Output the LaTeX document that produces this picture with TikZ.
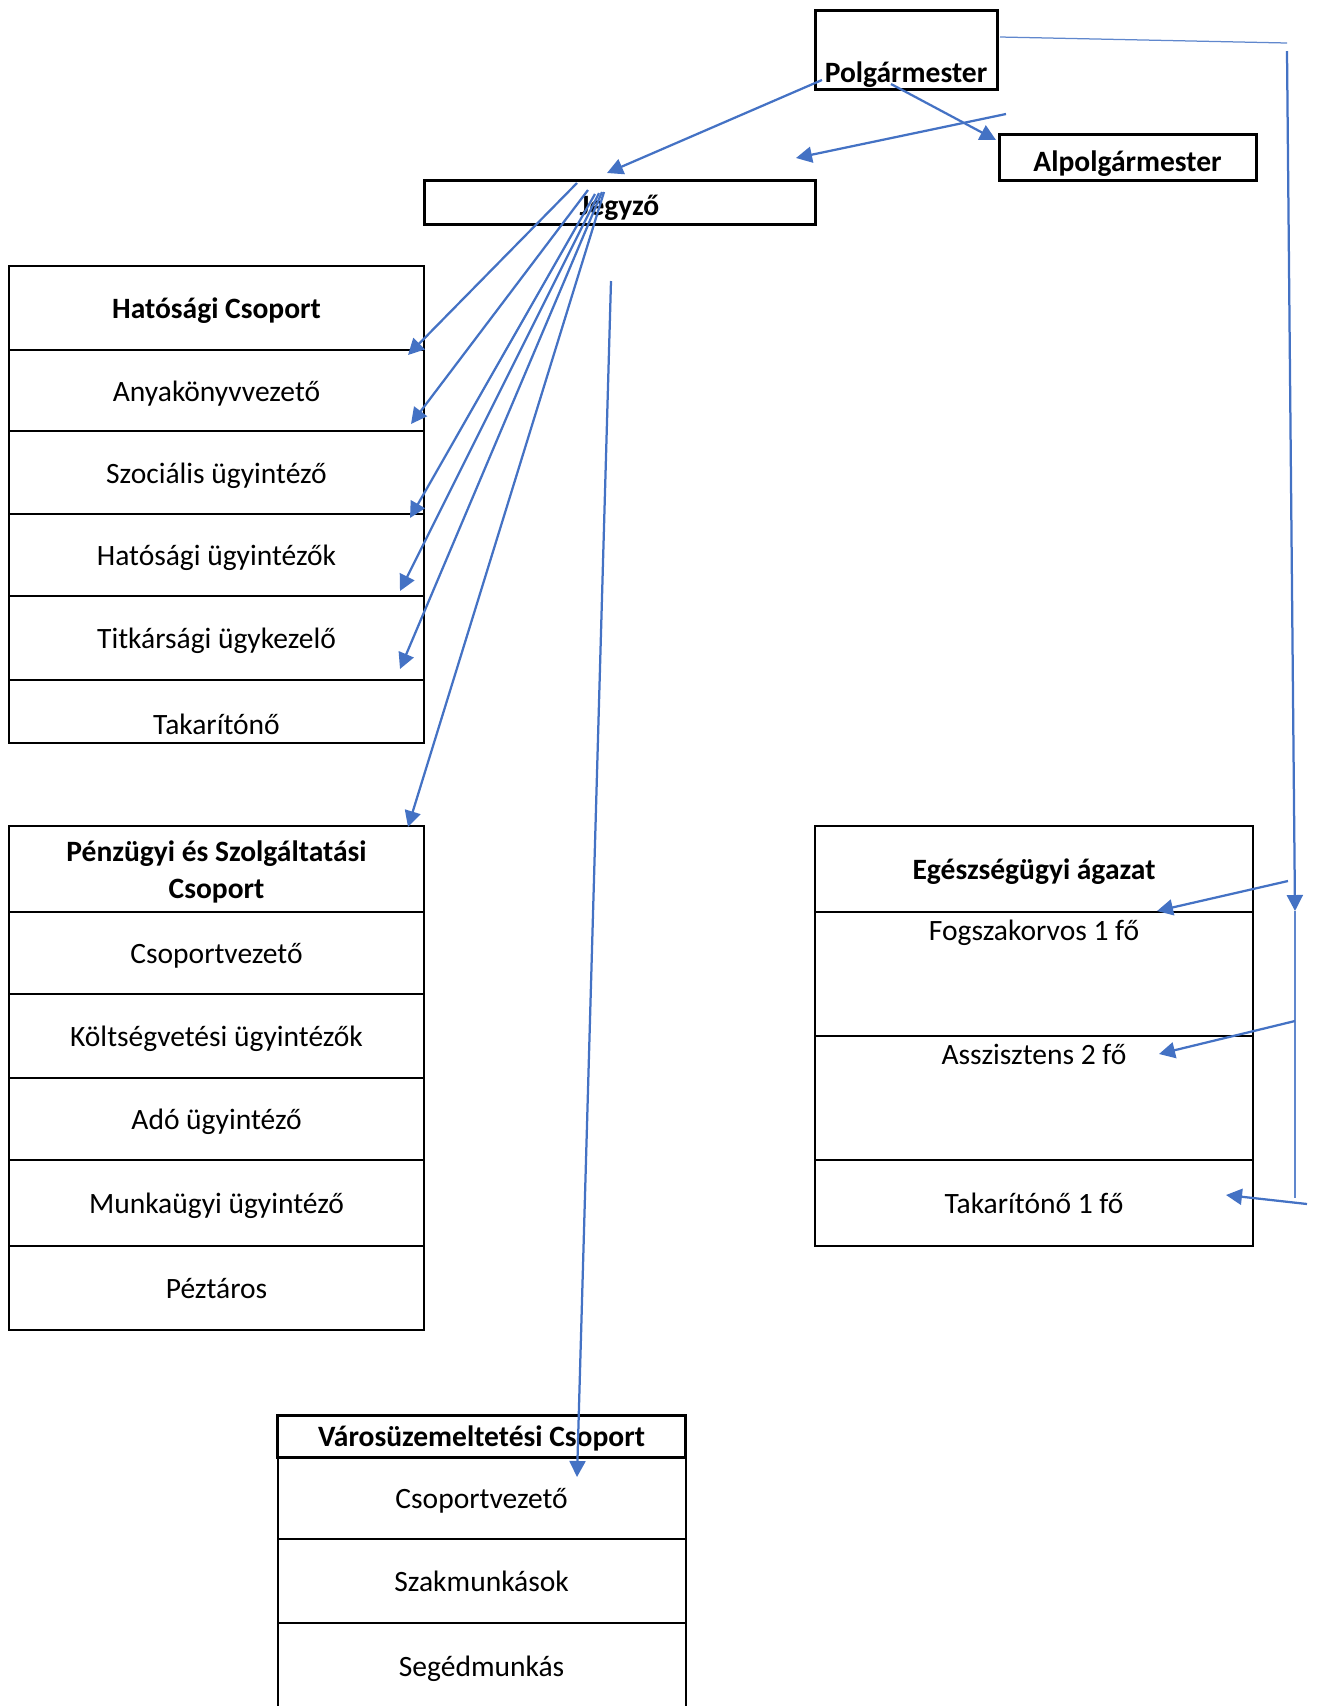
\documentclass[tikz,border=0pt]{standalone}
\usepackage{fontspec}
\setmainfont{Carlito}
\usetikzlibrary{positioning,calc,arrows.meta}
\definecolor{kek}{HTML}{4472C4}
\newcommand{\betumeret}{\fontsize{16.8}{21}\selectfont}
\tikzset{cella/.style={draw, line width=0.4mm, minimum width=83mm, inner sep=0pt, outer sep=0pt, align=center, text height=4.9mm, text depth=0.6mm}}
\tikzset{fej/.style={cella, font=\betumeret\bfseries}}
\tikzset{vastag/.style={draw, line width=0.6mm, inner sep=0pt, outer sep=0pt, font=\betumeret\bfseries, text height=4.9mm, text depth=0.6mm}}
\tikzset{nyil/.style={draw=kek, line width=0.45mm, -{Triangle[length=3.2mm,width=3.2mm]}}}
\tikzset{vonal/.style={draw=kek!85, line width=0.25mm}}

\begin{document}
\begin{tikzpicture}[x=0.2mm, y=-0.2mm, font=\betumeret]
		\useasboundingbox (0,0) rectangle (1317,1706);
		% vezetes
		\node[vastag, minimum width=36.4mm, text height=14.45mm, text depth=1.35mm] (polg) at (906,49.5) {Polgármester};
		\node[vastag, minimum width=51.4mm, minimum height=9.2mm, text height=5.8mm, text depth=0.2mm] (alpolg) at (1127.5,157) {Alpolgármester};
		\node[vastag, minimum width=78.2mm, minimum height=8.8mm, text height=5.6mm, text depth=0.3mm] (jegyzo) at (619.5,202) {Jegyző};
%
		\node[fej, minimum height=16.8mm] (hat0) at (216.5,307.5) {Hatósági Csoport};
		\node[cella, minimum height=16.3mm, below=0pt of hat0] (hat1) {Anyakönyvvezető};
		\node[cella, minimum height=16.5mm, below=0pt of hat1] (hat2) {Szociális ügyintéző};
		\node[cella, minimum height=16.5mm, below=0pt of hat2] (hat3) {Hatósági ügyintézők};
		\node[cella, minimum height=16.8mm, below=0pt of hat3] (hat4) {Titkársági ügykezelő};
		\node[cella, text height=10.8mm, text depth=1.8mm, below=0pt of hat4] (hat5) {Takarítónő};
%
		\node[fej, minimum height=17.2mm, text height=, text depth=] (penz0) at (216.5,869) {\rule{0pt}{5.5mm}Pénzügyi és Szolgáltatási\\Csoport};
		\node[cella, minimum height=16.3mm, below=0pt of penz0] (penz1) {Csoportvezető};
		\node[cella, minimum height=16.8mm, below=0pt of penz1] (penz2) {Költségvetési ügyintézők};
		\node[cella, minimum height=16.5mm, below=0pt of penz2] (penz3) {Adó ügyintéző};
		\node[cella, minimum height=17.2mm, below=0pt of penz3] (penz4) {Munkaügyi ügyintéző};
		\node[cella, minimum height=16.8mm, below=0pt of penz4] (penz5) {Péztáros};
%
		\node[fej, minimum width=87.6mm, minimum height=17.2mm] (eg0) at (1034,869) {Egészségügyi ágazat};
		\node[cella, minimum width=87.6mm, text height=5.6mm, text depth=19.2mm, below=0pt of eg0] (eg1) {Fogszakorvos 1 fő};
		\node[cella, minimum width=87.6mm, text height=5.6mm, text depth=19.2mm, below=0pt of eg1] (eg2) {Asszisztens 2 fő};
		\node[cella, minimum width=87.6mm, minimum height=17.2mm, below=0pt of eg2] (eg3) {Takarítónő 1 fő};
%
		\node[vastag, minimum width=81.6mm, minimum height=8.4mm] (varos0) at (481.6,1436) {Városüzemeltetési Csoport};
		\node[cella, minimum width=81.6mm, minimum height=16.3mm, below=0pt of varos0] (varos1) {Csoportvezető};
		\node[cella, minimum width=81.6mm, minimum height=16.8mm, below=0pt of varos1] (varos2) {Szakmunkások};
		\node[cella, minimum width=81.6mm, minimum height=17.2mm, below=0pt of varos2] (varos3) {Segédmunkás};
		% nyilak vegpontjai
		\coordinate (p1) at (822,80);   \coordinate (p2) at (891,84);
		\coordinate (p3) at (1006,114); \coordinate (p3v) at (796,158);
		\coordinate (pj) at (607,173);  \coordinate (pa) at (996,140);
		\coordinate (k1) at (1000,37);  \coordinate (k2) at (1287,43);
		\coordinate (k3) at (1287,51);  \coordinate (k4) at (1295,911);
		\coordinate (k5) at (1295,1198);
		\coordinate (e1) at (1288,881); \coordinate (e1v) at (1157,911);
		\coordinate (e2) at (1295,1021);\coordinate (e2v) at (1159,1054);
		\coordinate (e3) at (1307,1204);\coordinate (e3v) at (1226,1195);
%
		\draw[nyil] (p1) -- (pj);
		\draw[nyil] (p2) -- (pa);
		\draw[nyil] (p3) -- (p3v);
		\draw[vonal] (k1) -- (k2);
		\draw[nyil] (k3) -- (k4);
		\draw[vonal] (k4) -- (k5);
		\draw[nyil] (e1) -- (e1v);
		\draw[nyil] (e2) -- (e2v);
		\draw[nyil] (e3) -- (e3v);
		% jegyzo alatti nyilak
		\foreach \sx/\sy/\tx/\ty in {577/183/408/355, 588/190/411/424, 595/194/410/518, 599/193/400/591, 602/192/400/669, 604/192/408/827, 611/281/577/1477}
			\draw[nyil] (\sx,\sy) -- (\tx,\ty);
	\end{tikzpicture}
\end{document}
